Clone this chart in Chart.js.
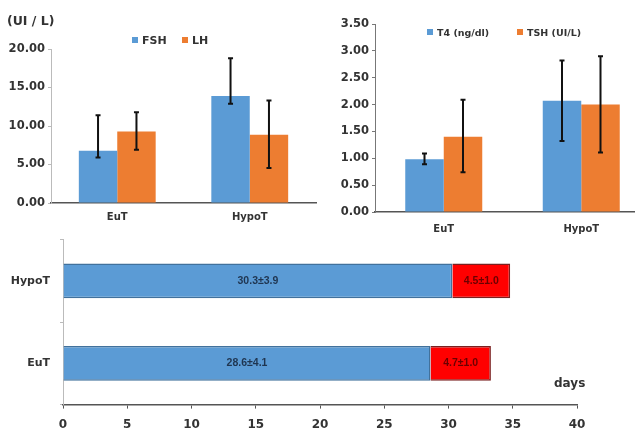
<!DOCTYPE html>
<html>
<head>
<meta charset="utf-8">
<script src="https://cdn.jsdelivr.net/npm/chart.js@4.4.1/dist/chart.umd.min.js"></script>
<style>
  html, body { margin: 0; padding: 0; background: #fff; overflow: hidden; }
  body { width: 635px; height: 429px; position: relative; font-family: "DejaVu Sans", sans-serif; }
  .box { position: absolute; }
  .txt { position: absolute; font-weight: bold; color: #333; white-space: nowrap; }
  .key { position: absolute; font-weight: bold; color: #333; white-space: nowrap; }
  .key i { display: inline-block; width: 6px; height: 6px; margin-right: 4px; vertical-align: 1px; }
</style>
</head>
<body>
<div class="box" style="left:0; top:0; width:320px; height:223px;"><canvas id="hormones"></canvas></div>
<div class="box" style="left:320px; top:0; width:330px; height:238px;"><canvas id="thyroid"></canvas></div>
<div class="box" style="left:0; top:223px; width:635px; height:218px;"><canvas id="cycle"></canvas></div>
<div class="txt" style="left:7px; top:13px; font-size:12.5px;">(UI / L)</div>
<div class="key" style="left:132px; top:34px; font-size:11px;"><i style="background:#5B9BD5"></i>FSH</div>
<div class="key" style="left:182px; top:34px; font-size:11px;"><i style="background:#ED7D31"></i>LH</div>
<div class="key" style="left:427px; top:27px; font-size:9.5px;"><i style="background:#5B9BD5"></i>T4 (ng/dl)</div>
<div class="key" style="left:517px; top:27px; font-size:9.5px;"><i style="background:#ED7D31"></i>TSH (UI/L)</div>
<div class="txt" style="left:554px; top:376px; font-size:12px;">days</div>
<script>
// groups
const groups = ["EuT", "HypoT"];

// top left: FSH / LH (UI/L)
const fsh = [6.8, 13.9];
const fshLow = [5.9, 12.9];
const fshHigh = [11.4, 18.8];
const lh = [9.3, 8.85];
const lhLow = [6.9, 4.55];
const lhHigh = [11.8, 13.3];
const hormoneTicks = [0, 5, 10, 15, 20];

// top right: T4 (ng/dl) / TSH (UI/L)
const t4 = [0.98, 2.07];
const t4Low = [0.89, 1.32];
const t4High = [1.09, 2.82];
const tsh = [1.40, 2.00];
const tshLow = [0.74, 1.11];
const tshHigh = [2.09, 2.90];

// bottom: cycle days, top row first
const cycleGroups = ["HypoT", "EuT"];
const phase1 = [30.3, 28.6];
const phase1Labels = ["30.3±3.9", "28.6±4.1"];
const phase2 = [4.5, 4.7];
const phase2Labels = ["4.5±1.0", "4.7±1.0"];

const BLUE = "#5B9BD5";
const ORANGE = "#ED7D31";
const tickFont = { family: "DejaVu Sans", weight: "bold", size: 11.5 };
const catFont = { family: "DejaVu Sans", weight: "bold", size: 10 };

// draws the whiskers from errLow/errHigh on each bar
const errorBars = {
    id: "errorBars",
    afterDatasetsDraw(chart) {
        const ctx = chart.ctx;
        const y = chart.scales.y;
        chart.data.datasets.forEach((ds, di) => {
            if (!ds.errLow) return;
            chart.getDatasetMeta(di).data.forEach((bar, i) => {
                const top = y.getPixelForValue(ds.errHigh[i]);
                const bot = y.getPixelForValue(ds.errLow[i]);
                ctx.save();
                ctx.strokeStyle = "#111";
                ctx.lineWidth = 2;
                ctx.beginPath();
                ctx.moveTo(bar.x, top);
                ctx.lineTo(bar.x, bot);
                ctx.moveTo(bar.x - 2.5, top);
                ctx.lineTo(bar.x + 2.5, top);
                ctx.moveTo(bar.x - 2.5, bot);
                ctx.lineTo(bar.x + 2.5, bot);
                ctx.stroke();
                ctx.restore();
            });
        });
    }
};

// text inside the stacked bars
const barText = {
    id: "barText",
    afterDatasetsDraw(chart) {
        const ctx = chart.ctx;
        chart.data.datasets.forEach((ds, di) => {
            if (!ds.texts) return;
            chart.getDatasetMeta(di).data.forEach((bar, i) => {
                ctx.save();
                ctx.font = "bold 10.5px 'Liberation Sans'";
                ctx.fillStyle = ds.textColor;
                ctx.textAlign = "center";
                ctx.textBaseline = "middle";
                ctx.fillText(ds.texts[i], (bar.x + bar.base) / 2, bar.y);
                ctx.restore();
            });
        });
    }
};

function groupedBars(id, a, b, yOpts, pad, yWidth, catPct, yAxisColor, catPad) {
    return new Chart(document.getElementById(id), {
        type: "bar",
        data: {
            labels: groups,
            datasets: [
                Object.assign({ backgroundColor: BLUE }, a),
                Object.assign({ backgroundColor: ORANGE }, b)
            ]
        },
        options: {
            animation: false,
            responsive: true,
            maintainAspectRatio: false,
            layout: { padding: pad },
            datasets: { bar: { categoryPercentage: catPct, barPercentage: 1 } },
            plugins: { legend: { display: false }, tooltip: { enabled: false } },
            scales: {
                x: {
                    grid: { display: false },
                    border: { color: "#555", width: 1.5 },
                    ticks: { color: "#333", font: catFont, padding: catPad }
                },
                y: Object.assign({
                    afterFit(s) { s.width = yWidth; },
                    grid: { drawOnChartArea: false, tickLength: 3, color: yAxisColor },
                    border: { color: yAxisColor },
                    ticks: { color: "#333", font: tickFont, callback: v => v.toFixed(2) }
                }, yOpts)
            }
        },
        plugins: [errorBars]
    });
}

groupedBars("hormones",
    { label: "FSH", data: fsh, errLow: fshLow, errHigh: fshHigh },
    { label: "LH", data: lh, errLow: lhLow, errHigh: lhHigh },
    { min: 0, max: 20, afterBuildTicks(s) { s.ticks = hormoneTicks.map(v => ({ value: v })); } },
    { top: 49, right: 4, left: 4 }, 47, 0.58, "#bbb", 0);

groupedBars("thyroid",
    { label: "T4 (ng/dl)", data: t4, errLow: t4Low, errHigh: t4High },
    { label: "TSH (UI/L)", data: tsh, errLow: tshLow, errHigh: tshHigh },
    { min: 0, max: 3.5, ticks: { stepSize: 0.5, color: "#333", font: tickFont, callback: v => v.toFixed(2) } },
    { top: 24, right: 0, left: 4 }, 51, 0.56, "#777", 3);

new Chart(document.getElementById("cycle"), {
    type: "bar",
    data: {
        labels: cycleGroups,
        datasets: [
            { data: phase1, backgroundColor: BLUE, borderColor: "#41719C", borderWidth: 1.5,
              texts: phase1Labels, textColor: "#1F3550" },
            { data: phase2, backgroundColor: "#FF0000", borderColor: "#7A2020", borderWidth: 1.5,
              texts: phase2Labels, textColor: "#6B0000" }
        ]
    },
    options: {
        indexAxis: "y",
        animation: false,
        responsive: true,
        maintainAspectRatio: false,
        layout: { padding: { top: 0, right: 58, left: 4, bottom: 0 } },
        datasets: { bar: { categoryPercentage: 1, barPercentage: 0.42 } },
        plugins: { legend: { display: false }, tooltip: { enabled: false } },
        scales: {
            x: {
                stacked: true,
                min: 0, max: 40,
                ticks: { stepSize: 5, padding: 9, color: "#333", font: { family: "DejaVu Sans", weight: "bold", size: 12 } },
                grid: { drawOnChartArea: false, tickLength: 4, color: "#555" },
                border: { color: "#555", width: 1.5 }
            },
            y: {
                stacked: true,
                afterFit(s) { s.width = 59; },
                ticks: { padding: 10, color: "#333", font: { family: "DejaVu Sans", weight: "bold", size: 11 } },
                grid: { drawOnChartArea: false, offset: true, tickLength: 3, color: "#bbb" },
                border: { color: "#bbb" }
            }
        }
    },
    plugins: [barText]
});
</script>
</body>
</html>
